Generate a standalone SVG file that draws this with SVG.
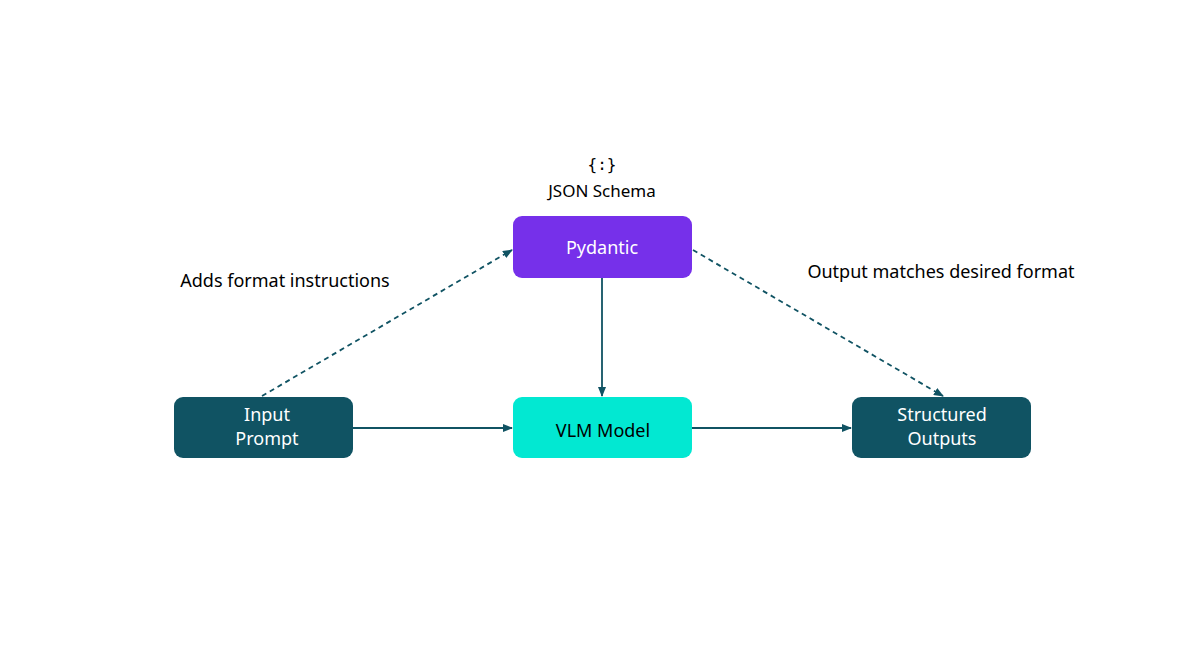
<svg xmlns="http://www.w3.org/2000/svg" width="1200" height="671" viewBox="0 0 1200 671">
<style>
.t{font-family:"Noto Sans","Liberation Sans",sans-serif;font-size:18px;text-anchor:middle}
.w{fill:#fff}.k{fill:#000}
.c{stroke:#105363;stroke-width:1.8;fill:none}
.d{stroke-dasharray:5,4}
</style>
<defs><marker id="a" markerWidth="10" markerHeight="8" refX="9" refY="4" orient="auto" markerUnits="userSpaceOnUse"><path d="M0,0L10,4L0,8Z" fill="#105363"/></marker></defs>
<rect width="1200" height="671" fill="#fff"/>
<g id="connectors">
<path class="c d" d="M262,396L512,250" marker-end="url(#a)"/>
<path class="c d" d="M693,250L943,396" marker-end="url(#a)"/>
<path class="c" d="M602,278L602,396" marker-end="url(#a)"/>
<path class="c" d="M353,428L512,428" marker-end="url(#a)"/>
<path class="c" d="M692,428L851,428" marker-end="url(#a)"/>
</g>
<g id="schema"><text class="t k" x="602" y="170" style="font-family:'DejaVu Sans Mono',monospace;font-size:16px">{:}</text><text class="t k" x="602" y="197" style="font-size:17px">JSON Schema</text></g>
<g id="pydantic"><rect x="513" y="216" width="179" height="62" rx="9" fill="#7630ea"/><text class="t w" x="602" y="254">Pydantic</text></g>
<g id="input"><rect x="174" y="397" width="179" height="61" rx="9" fill="#105363"/><text class="t w" x="267" y="421">Input</text><text class="t w" x="267" y="445">Prompt</text></g>
<g id="vlm"><rect x="513" y="397" width="179" height="61" rx="9" fill="#02e8d2"/><text class="t k" x="603" y="437">VLM Model</text></g>
<g id="out"><rect x="852" y="397" width="179" height="61" rx="9" fill="#105363"/><text class="t w" x="942" y="421">Structured</text><text class="t w" x="942" y="445">Outputs</text></g>
<text class="t k" x="285" y="287">Adds format instructions</text>
<text class="t k" x="941" y="278">Output matches desired format</text>
</svg>
